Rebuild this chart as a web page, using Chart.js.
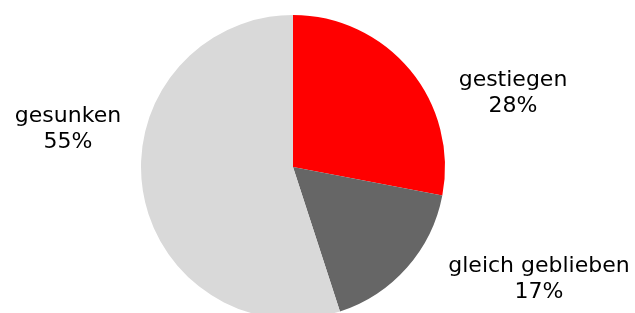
<!DOCTYPE html>
<html>
<head>
<meta charset="utf-8">
<script src="https://cdn.jsdelivr.net/npm/chart.js@4/dist/chart.umd.min.js"></script>
<style>
  html, body { margin: 0; padding: 0; background: #fff; overflow: hidden; }
  #wrap { width: 635px; height: 330px; }
</style>
</head>
<body>
<div id="wrap"><canvas id="grafica"></canvas></div>
<script>
const kategorien = ['gestiegen', 'gleich geblieben', 'gesunken'];
const anteile = [28, 17, 55];
const farben = ['#ff0000', '#666666', '#d9d9d9'];

// label baseline offsets from the pie centre (first line)
const labelPos = [[220, -81], [246, 105], [-225, -45]];

const labelPlugin = {
  id: 'aussenLabels',
  afterDatasetsDraw(chart) {
    const ctx = chart.ctx;
    const arc = chart.getDatasetMeta(0).data[0];
    ctx.save();
    ctx.font = '22px "DejaVu Sans"';
    ctx.fillStyle = '#000';
    ctx.textAlign = 'center';
    ctx.textBaseline = 'alphabetic';
    kategorien.forEach((k, i) => {
      const x = arc.x + labelPos[i][0];
      const y = arc.y + labelPos[i][1];
      ctx.fillText(k, x, y);
      ctx.fillText(anteile[i] + '%', x, y + 26);
    });
    ctx.restore();
  }
};

let micanvas = document.getElementById('grafica').getContext('2d');
var chart = new Chart(micanvas, {
  type: 'pie',
  data: {
    labels: kategorien,
    datasets: [{
      data: anteile,
      backgroundColor: farben,
      borderWidth: 0
    }]
  },
  options: {
    responsive: true,
    maintainAspectRatio: false,
    animation: false,
    layout: { padding: { top: 15, bottom: 11, left: 0, right: 49 } },
    plugins: {
      legend: { display: false },
      tooltip: { enabled: false }
    }
  },
  plugins: [labelPlugin]
});
</script>
</body>
</html>
